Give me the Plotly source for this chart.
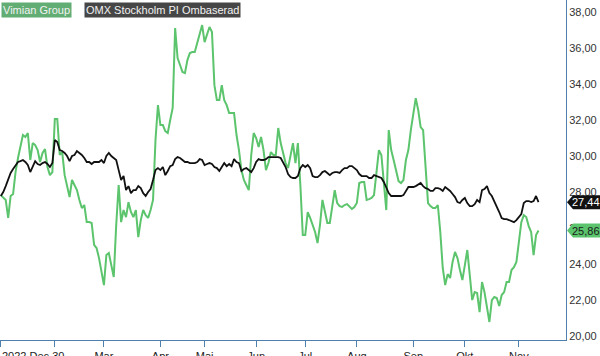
import pandas as pd
import plotly.graph_objects as go

# Swedish trading calendar (trading days only)
start_date = "2022-12-30"
end_date = "2023-11-13"
holidays = ["2023-01-06", "2023-04-07", "2023-04-10", "2023-05-01",
            "2023-05-18", "2023-06-06", "2023-06-23"]
dates = pd.bdate_range(start_date, end_date, freq="C", holidays=holidays)

vimian = [
    27.83, 27.72, 27.56, 26.56, 27.78, 27.89, 29.11, 29.89, 30.61, 31.17,
    31.06, 31.28, 29.78, 30.72, 30.61, 30.33, 29.67, 30.17, 30.39, 29.39,
    28.94, 29.11, 32.06, 32.06, 30.06, 30.22, 28.94, 28.28, 27.72, 28.67,
    28.39, 28.11, 27.56, 27.11, 27.28, 26.33, 26.33, 26.28, 25.06, 24.89,
    24.33, 23.56, 22.83, 24.50, 24.61, 23.94, 23.28, 26.17, 28.39, 26.33,
    27.00, 26.61, 27.44, 26.89, 26.61, 27.00, 25.50, 26.44, 27.00, 26.72,
    26.56, 27.00, 27.56, 30.89, 32.83, 31.72, 31.72, 31.39, 31.28, 32.00,
    32.67, 37.11, 35.44, 35.06, 34.67, 34.61, 35.33, 35.72, 35.78, 35.78,
    36.33, 36.89, 37.28, 36.33, 36.83, 37.17, 36.89, 33.94, 33.11, 33.11,
    33.94, 33.11, 32.83, 32.39, 32.39, 32.39, 31.17, 30.33, 29.22, 28.67,
    28.39, 28.11, 30.06, 31.28, 31.00, 30.50, 31.06, 30.33, 29.22, 29.61,
    30.22, 30.06, 30.06, 31.56, 30.72, 30.17, 29.61, 29.33, 30.06, 30.72,
    29.61, 30.72, 28.39, 25.61, 25.61, 26.89, 26.56, 26.17, 25.78, 25.17,
    26.17, 27.56, 26.89, 26.28, 26.28, 27.28, 28.11, 27.39, 27.22, 27.17,
    27.28, 27.33, 27.17, 27.06, 27.17, 27.39, 28.50, 28.56, 28.56, 27.56,
    27.61, 27.67, 27.83, 29.22, 30.33, 30.06, 28.67, 27.00, 31.44, 30.33,
    29.78, 29.11, 28.61, 28.50, 28.67, 29.78, 30.33, 31.44, 32.44, 33.22,
    32.56, 31.61, 31.44, 29.50, 27.39, 27.22, 27.11, 27.11, 27.28, 25.78,
    23.78, 22.83, 23.44, 23.22, 24.11, 24.67, 24.33, 23.67, 23.11, 23.94,
    24.78, 23.39, 22.00, 22.44, 22.39, 21.33, 23.00, 22.44, 21.67, 20.78,
    22.00, 22.17, 22.11, 21.67, 22.28, 22.44, 23.00, 23.00, 23.67, 23.83,
    24.11, 25.33, 26.33, 26.72, 26.61, 26.11, 25.78, 24.50, 25.61, 25.86,
]

omx = [
    27.78, 28.00, 28.33, 28.67, 29.06, 29.28, 29.50, 29.67, 29.72, 29.78,
    29.67, 29.50, 29.11, 29.44, 29.72, 29.56, 29.50, 29.61, 29.67, 29.56,
    29.39, 29.61, 30.89, 30.78, 30.33, 30.28, 30.17, 30.00, 29.72, 30.00,
    30.06, 30.28, 30.17, 30.06, 29.89, 29.67, 29.67, 29.56, 29.67, 29.67,
    29.67, 29.78, 29.61, 30.00, 30.17, 30.00, 29.89, 29.78, 29.22, 28.67,
    28.89, 28.11, 28.33, 27.94, 28.11, 28.11, 28.33, 28.22, 27.94, 27.78,
    28.00, 28.17, 28.67, 29.22, 29.33, 29.22, 29.39, 28.94, 29.17, 29.44,
    29.50, 29.83, 29.94, 29.89, 29.78, 29.67, 29.67, 29.61, 29.61, 29.61,
    29.67, 29.83, 29.78, 29.50, 29.56, 29.61, 29.56, 29.39, 29.33, 29.17,
    29.39, 29.61, 29.44, 29.56, 29.44, 29.83, 29.67, 29.61, 29.17, 29.28,
    29.33, 29.22, 29.11, 29.33, 29.67, 29.83, 29.78, 29.78, 29.83, 29.94,
    29.94, 29.94, 29.94, 29.94, 29.89, 29.67, 29.39, 29.00, 28.83, 28.78,
    28.78, 28.89, 29.33, 29.50, 29.39, 29.50, 29.33, 28.89, 28.83, 28.83,
    28.94, 29.11, 29.17, 29.06, 28.94, 29.06, 29.11, 29.11, 29.06, 29.22,
    29.33, 29.33, 29.44, 29.44, 29.33, 29.22, 29.00, 28.89, 28.89, 28.89,
    28.78, 28.78, 28.94, 28.89, 28.83, 28.78, 28.56, 28.22, 27.94, 27.78,
    27.78, 27.78, 27.78, 27.78, 27.83, 28.06, 28.28, 28.28, 28.28, 28.33,
    28.44, 28.50, 28.33, 28.22, 28.17, 28.06, 28.06, 28.22, 28.22, 28.17,
    28.06, 28.28, 28.17, 28.06, 27.89, 27.72, 27.44, 27.39, 27.56, 27.67,
    27.39, 27.22, 27.22, 27.33, 27.56, 27.44, 28.11, 28.17, 28.33, 27.94,
    27.78, 27.50, 27.22, 26.89, 26.56, 26.50, 26.50, 26.44, 26.39, 26.33,
    26.44, 26.61, 26.78, 27.39, 27.50, 27.50, 27.44, 27.50, 27.78, 27.44,
]

series_names = ["Vimian Group", "OMX Stockholm PI Ombaserad"]
month_labels = ["2022 Dec 30", "", "Mar", "Apr", "Mai", "Jun", "Jul", "Aug", "Sep", "Okt", "Nov"]
y_ticks = [20, 22, 24, 26, 28, 30, 32, 34, 36, 38]
y_tick_labels = ["20,00", "22,00", "24,00", "26,00", "28,00", "30,00", "32,00", "34,00", "36,00", "38,00"]

n = min(len(dates), len(vimian), len(omx))
idx = list(range(n))
date_str = [d.strftime("%Y-%m-%d") for d in dates[:n]]

# tick positions: start date, then first trading day of each month from February
tick_pos = [0]
seen = {(dates[0].year, dates[0].month), (2023, 1)}
for i, d in enumerate(dates[:n]):
    key = (d.year, d.month)
    if key not in seen:
        seen.add(key)
        tick_pos.append(i)
tick_pos = tick_pos[:len(month_labels)]
tick_text = [""] + month_labels[1:len(tick_pos)]

AXIS = "#4f7fad"
GREEN = "#5bc46c"
FONT = "Arial, Liberation Sans, sans-serif"

fig = go.Figure()
fig.add_trace(go.Scatter(x=idx, y=vimian[:n], mode="lines", name=series_names[0],
                         customdata=date_str, line=dict(color=GREEN, width=2)))
fig.add_trace(go.Scatter(x=idx, y=omx[:n], mode="lines", name=series_names[1],
                         customdata=date_str, line=dict(color="#111111", width=1.8)))

fig.update_layout(
    width=600, height=356,
    margin=dict(l=0, r=34, t=0, b=16, autoexpand=False),
    plot_bgcolor="white", paper_bgcolor="white",
    showlegend=False,
    font=dict(family=FONT, size=11, color="#222"),
    xaxis=dict(range=[-0.33, 230.2], showline=True, linecolor=AXIS, linewidth=1,
               ticks="outside", ticklen=6, tickcolor=AXIS, tickwidth=1,
               tickvals=tick_pos, ticktext=tick_text, showgrid=False, zeroline=False,
               ticklabelstandoff=0, automargin=False,
               tickfont=dict(size=11, color="#222")),
    yaxis=dict(side="right", range=[19.78, 38.67], showline=True, linecolor=AXIS,
               linewidth=1, ticks="", tickvals=y_ticks, ticktext=y_tick_labels,
               showgrid=False, zeroline=False, automargin=False,
               tickfont=dict(size=11, color="#333")),
)

# first x label, left-anchored at the edge
fig.add_annotation(text=month_labels[0], xref="paper", yref="paper", x=0, y=0,
                   xanchor="left", yanchor="top", yshift=-8, showarrow=False,
                   font=dict(size=11, color="#222"))

# legend boxes
fig.add_annotation(text=series_names[0], xref="paper", yref="paper", x=0.002, y=0.995,
                   xanchor="left", yanchor="top", showarrow=False, bgcolor="#62ad74",
                   borderpad=1, font=dict(size=11, color="#f2f2f2"))
fig.add_annotation(text=series_names[1], xref="paper", yref="paper", x=0.148, y=0.995,
                   xanchor="left", yanchor="top", showarrow=False, bgcolor="#464646",
                   borderpad=1, font=dict(size=11, color="#f2f2f2"))

# last value tags on the right axis
tags = [(omx[n - 1], "#111111", "white"), (vimian[n - 1], GREEN, "#1a1a1a")]
for val, bg, fg in tags:
    fig.add_shape(type="path", xref="paper", yref="y", xsizemode="pixel", ysizemode="pixel",
                  xanchor=1, yanchor=val, path="M1,0 L7,7 L34,7 L34,-7 L7,-7 Z",
                  fillcolor=bg, line=dict(width=0), layer="above")
    fig.add_annotation(text=f"{val:.2f}".replace(".", ","), xref="paper", yref="y",
                       x=1, y=val, xanchor="center", xshift=20, showarrow=False,
                       font=dict(size=11, color=fg))

fig.write_html("out.html", config={"displayModeBar": False},
               post_script="document.body.style.margin='0';document.body.style.overflow='hidden';")
